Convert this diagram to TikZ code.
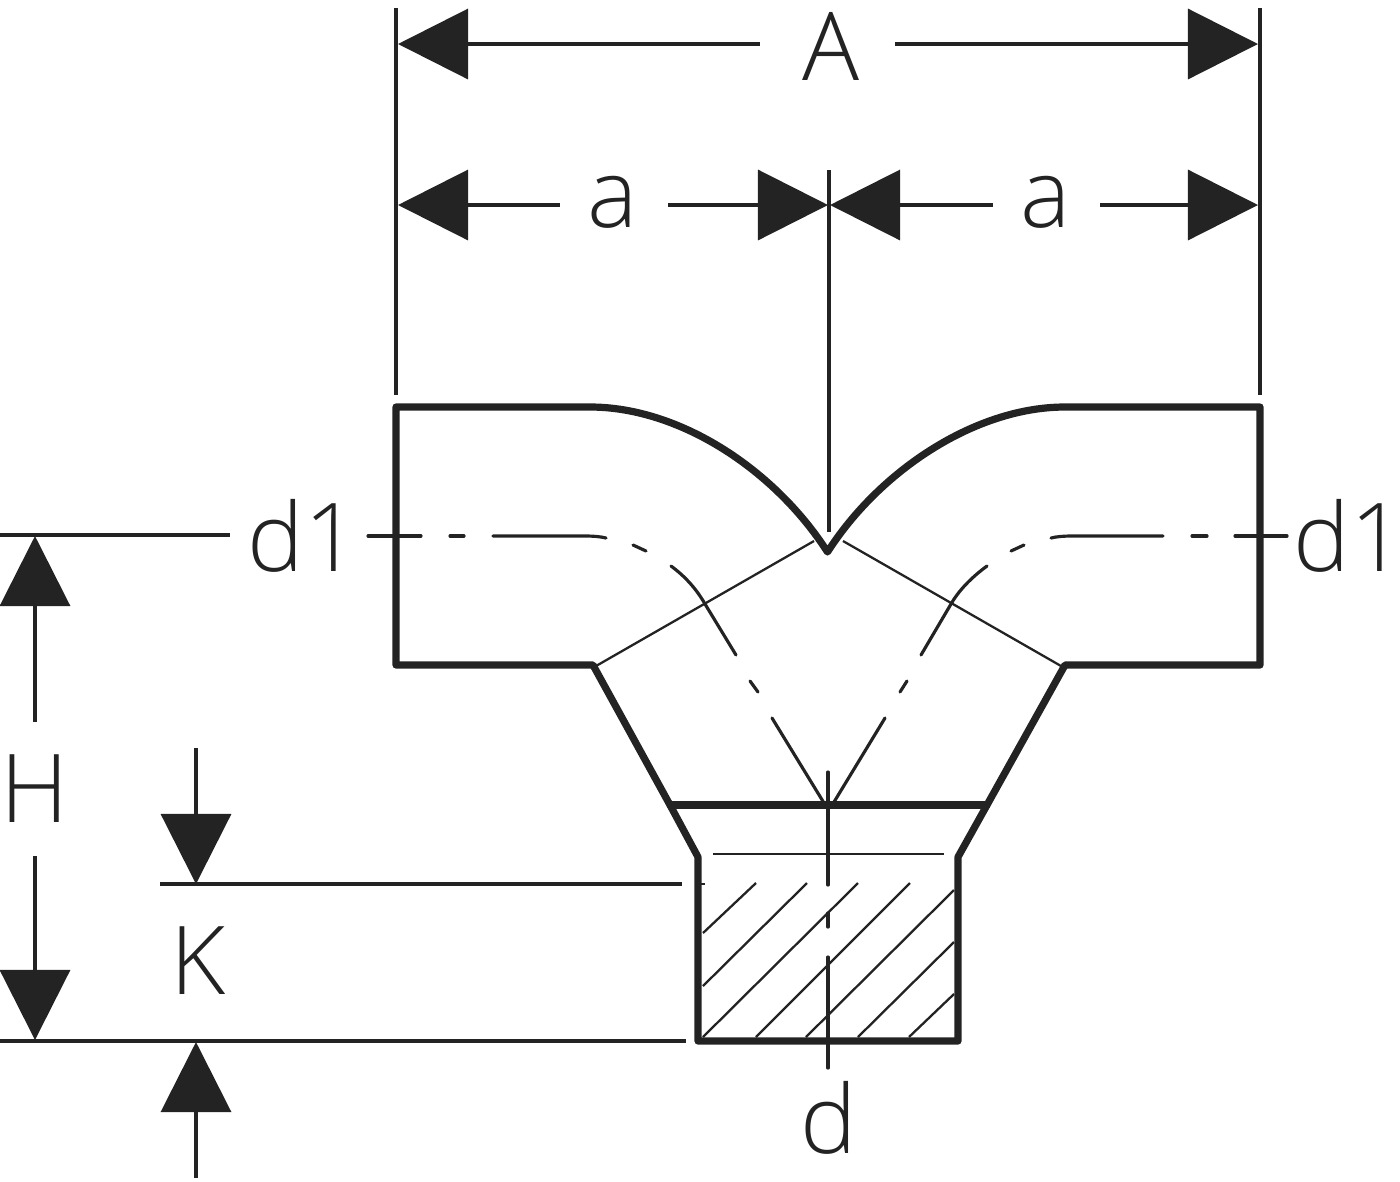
\documentclass[tikz,border=0pt]{standalone}
\usepackage{fontspec}
\setmainfont{Open Sans}[UprightFont=* Light]
\usetikzlibrary{arrows.meta}
\definecolor{ink}{HTML}{232323}
\tikzset{
  body/.style={draw=ink,line width=2.05pt,line join=round,line cap=round},
  dim/.style={draw=ink,line width=0.9pt},
  dimarrow/.style={dim,-{Triangle[length=7mm,width=7mm]}},
  fine/.style={draw=ink,line width=0.65pt},
  axis/.style={draw=ink,line width=0.9pt,line cap=round},
  label/.style={text=ink,font=\fontsize{27}{27}\selectfont,inner sep=0pt}
}
\begin{document}
\begin{tikzpicture}[x=0.01cm,y=-0.01cm]
\useasboundingbox (0,0) rectangle (1400,1181);
% labels
\node[label] (lA) at (831,46) {A};
\node[label] (la1) at (613,202) {a};
\node[label] (la2) at (1046,202) {a};
\node[label] (ld1l) at (303,536) {d1};
\node[label] (ld1r) at (1349,536) {d1};
\node[label] (lH) at (35,789) {H};
\node[label] (lK) at (198,961) {K};
\node[label] (ld) at (829,1118) {d};
% extension lines
\draw[dim] (396,8) -- (396,395);
\draw[dim] (1260,8) -- (1260,395);
\draw[dim] (829,170) -- (829,532);
\draw[dim] (0,535) -- (230,535);
\draw[dim] (0,1041) -- (686,1041);
\draw[dim] (160,884) -- (682,884);
\draw[fine] (696,884) -- (705,884);
% dimension lines
\draw[dimarrow] (760,44) -- (398,44);
\draw[dimarrow] (895,44) -- (1258,44);
\draw[dimarrow] (560,205) -- (398,205);
\draw[dimarrow] (668,205) -- (828,205);
\draw[dimarrow] (993,205) -- (830,205);
\draw[dimarrow] (1100,205) -- (1258,205);
\draw[dimarrow] (35,722) -- (35,536);
\draw[dimarrow] (35,856) -- (35,1040);
\draw[dimarrow] (196,748) -- (196,884);
\draw[dimarrow] (196,1178) -- (196,1042);
% hatching
\foreach \a/\b/\c/\d in {703/933/756/883,703/986/807/883,703/1037/858/883,756/1037/910/883,806/1037/954/890,858/1037/954/942,909/1037/954/994}
  \draw[fine] (\a,\b) -- (\c,\d);
% fine body lines
\draw[fine] (596,666) -- (814,541);
\draw[fine] (1061,666) -- (843,541);
\draw[fine] (713,854) -- (944,854);
% centre lines
\draw[axis] (368,536) -- (421,536);
\draw[axis] (450,536) -- (464,536);
\draw[axis] (493,536) -- (585,536) .. controls (593,536) and (600,536.5) .. (606,538);
\draw[axis] (633,545) -- (646,551);
\draw[axis] (671,566) .. controls (686,577) and (697,590) .. (705,604) -- (736,655);
\draw[axis] (750,681) -- (758,692);
\draw[axis] (772,718) -- (824,803);
\draw[axis] (1287,536) -- (1235,536);
\draw[axis] (1207,536) -- (1192,536);
\draw[axis] (1163,536) -- (1072,536) .. controls (1064,536) and (1057,536.5) .. (1051,538);
\draw[axis] (1011,551) -- (1024,545);
\draw[axis] (987,566) .. controls (972,577) and (959,590) .. (951,604) -- (921,655);
\draw[axis] (907,681) -- (900,692);
\draw[axis] (885,718) -- (834,802);
\draw[axis] (828,772) -- (828,885);
\draw[axis] (828,913) -- (828,927);
\draw[axis] (828,957) -- (828,1068);
% body
\draw[body] (396,407) -- (590,407) .. controls (680,407) and (775,470) .. (827.5,552)
  .. controls (880,470) and (976,407) .. (1065,407) -- (1260,407) -- (1260,665) -- (1065,665)
  -- (987,805) -- (958,857) -- (958,1041) -- (698,1041) -- (698,857) -- (670,805)
  -- (593,665) -- (396,665) -- cycle;
\draw[body] (670,805) -- (987,805);
\end{tikzpicture}
\end{document}
